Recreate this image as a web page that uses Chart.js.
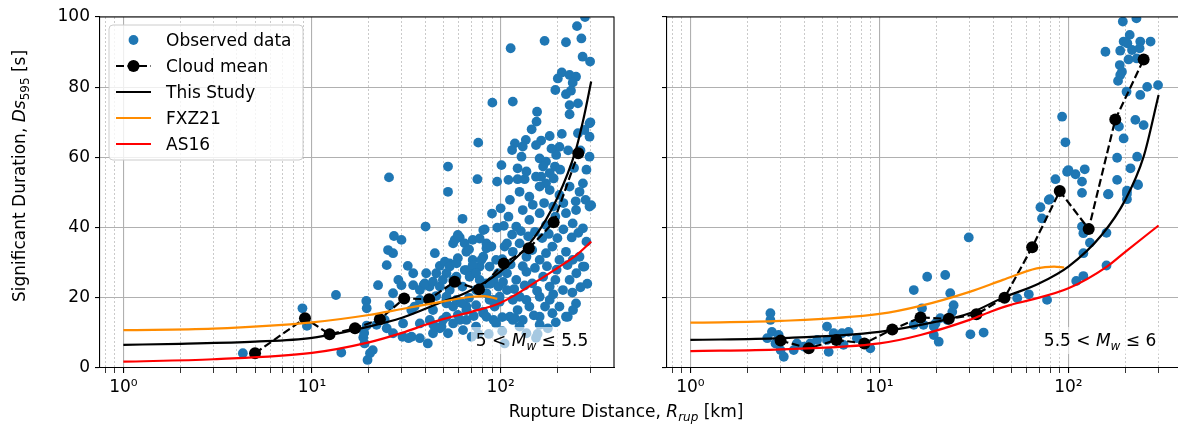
<!DOCTYPE html>
<html>
<head>
<meta charset="utf-8">
<script src="https://cdn.jsdelivr.net/npm/chart.js@4.4.0/dist/chart.umd.min.js"></script>
<style>
html, body { margin: 0; padding: 0; background: #fff; overflow: hidden; width: 1178px; height: 427px; }
#wrap { position: relative; width: 1178px; height: 427px; }
#left { position: absolute; left: 0; top: 0; }
#right { position: absolute; left: 620px; top: 0; }
#xlabel { position: absolute; left: 0; top: 401px; width: 1252px; text-align: center;
  font: 17px "DejaVu Sans"; color: #000; white-space: nowrap; }
#xlabel .sub { font-size: 12px; font-style: italic; position: relative; top: 4px; }
</style>
</head>
<body>
<div id="wrap">
  <canvas id="left" width="620" height="427"></canvas>
  <canvas id="right" width="570" height="427"></canvas>
  <div id="xlabel">Rupture Distance, <i>R</i><span class="sub">rup</span> [km]</div>
</div>
<script>
// --- data: [Rrup (km), Ds595 (s)] ---
const obsLeft = [
  [4.3,4.2],[8.9,17.0],[9.4,12.0],[13.4,20.8],[14.3,4.4],
  [19.4,19.1],[19.5,17.0],[19.5,12.1],[18.7,8.7],[19.0,7.0],[21.0,5.1],[20.3,4.2],[19.7,2.3],[18.9,10.0],
  [22.4,23.6],[25.6,54.3],[24.9,29.3],[25.3,33.6],[26.9,32.7],[27.2,37.6],[29.8,36.5],[28.7,25.1],[25.8,17.9],
  [30.4,12.7],[30.2,8.9],[33.7,8.9],[32.2,29.1],[34.4,27.0],[35.0,17.5],[37.3,12.7],[40.0,40.3],[40.3,27.0],
  [39.0,23.6],[42.0,23.2],[44.8,32.7],[47.6,29.1],[44.0,12.3],[48.6,11.8],[52.6,57.4],[52.6,50.2],[51.6,18.4],
  [29.8,23.6],[26.9,21.3],[24.3,13.7],[22.0,12.3],[24.9,11.3],[26.9,9.9],[32.5,8.5],[37.3,8.5],[41.1,7.0],[34.4,23.6],
  [37.3,22.2],[39.6,24.1],[43.8,24.6],[47.6,23.2],[53.7,22.2],[51.6,19.4],[56.0,17.5],[59.3,15.1],[65.8,16.5],
  [60.7,13.7],[51.6,14.6],[47.6,11.3],[43.8,16.5],[37.3,19.4],[33.6,16.5],[42.1,13.7],[43.8,9.9],[52.6,9.9],
  [63.2,10.8],[80.9,15.6],[91.7,13.7],[91.7,19.4],[84.1,21.3],[74.1,22.2],[71.1,27.0],[77.4,28.9],[64.5,27.9],
  [77.4,25.1],[53.7,29.8],[51.6,27.0],[58.3,26.0],[45.6,27.0],[80.9,31.7],[84.1,34.1],[71.1,30.8],
  [62.8,42.5],[60.7,37.2],[56.0,35.5],[59.3,31.3],[65.8,33.1],[71.1,36.5],[76.1,64.2],[75.3,53.8],[82.3,39.5],
  [84.1,35.5],[90.4,75.6],[95.8,53.1],[101,57.8],[113,91.1],[116,75.9],[110,53.6],[112,47.9],[105,34.6],
  [116,13.7],[98.8,18.9],[70.2,8.9],[76.1,9.7],[86.5,9.7],[105,7.0],[157,9.7],[154,8.6],
  [123,53.8],[134,53.8],[171,93.2],[222,92.8],[254,97.4],[280,100],[268,93.9],[272,88.7],[298,87.3],
  [201,82.5],[211,84.2],[232,83.5],[251,83.0],[241,81.3],[195,79.2],[222,78.0],[236,79.0],[257,75.4],
  [232,74.9],[232,72.3],[156,73.0],[155,70.2],[299,70.0],[296,65.9],[296,60.2],[257,66.9],[278,67.8],
  [211,66.7],[182,66.1],[164,64.8],[154,63.5],[136,65.0],[131,63.1],[119,64.0],[115,62.1],[129,60.2],
  [205,63.0],[197,60.7],[161,59.7],[174,58.8],[168,57.4],[182,55.5],[164,54.5],[191,54.0],[174,52.6],
  [154,54.5],[194,57.4],[123,56.9],[273,52.6],
  [57.1,36.5],[59.3,37.9],[64.5,35.5],[77.4,36.9],[80.9,39.3],[89.3,34.6],
  [50.6,30.3],[53.7,28.9],[58.4,29.8],[65.8,27.9],[71.1,29.3],[79.0,30.8],[87.4,28.9],[94.6,30.8],
  [49.4,25.1],[56.0,25.1],[62.7,23.2],[68.5,26.0],[74.1,27.0],[84.1,24.1],[91.7,25.1],[97.3,23.2],
  [51.6,20.3],[58.3,19.4],[65.8,17.5],[74.1,17.9],[80.9,16.0],[87.4,19.4],[92.9,17.5],[98.8,20.3],
  [49.4,13.7],[56.0,12.7],[65.8,13.7],[74.1,11.8],[84.1,14.6],[94.6,12.7],
  [126,50.2],[142,48.8],[161,51.7],[182,50.7],[205,49.3],[232,51.7],[262,50.2],[282,47.9],[296,46.0],
  [110,43.1],[121,40.3],[131,45.0],[142,42.2],[161,44.1],[174,40.7],[195,43.1],[222,44.1],[241,41.2],
  [273,39.8],[251,45.0],
  [108,35.5],[116,33.1],[126,35.5],[137,31.7],[147,33.6],[161,30.8],[174,32.7],[188,34.6],[205,30.8],
  [222,33.1],[241,30.8],[262,31.7],[273,28.9],
  [108,27.0],[121,25.1],[137,27.4],[147,24.1],[168,26.0],[182,23.2],[195,25.1],[214,22.2],[251,18.4],
  [232,25.1],[108,22.2],[126,20.3],
  [116,19.4],[142,17.5],[161,20.3],[182,19.4],[205,17.5],[112,14.6],[131,13.7],[161,14.6],[188,15.6],[222,14.6],
  [126,11.8],[161,12.3],[137,9.9],[227,14.6],[302,46.4],[278,28.9],[178,11.3],[119,14.2],[137,19.4],[296,69.7],
  // denser part of the cloud
  [104,40.5],[115,38.0],[128,39.0],[140,37.5],[152,38.8],[166,37.0],[180,38.2],[200,37.0],[215,39.5],[238,37.2],
  [258,38.5],[285,36.0],[102,31.0],[113,29.5],[131,29.0],[152,28.5],[176,29.0],[198,28.0],[226,29.3],[252,27.0],
  [288,24.0],[103,24.5],[118,22.5],[134,23.5],[156,22.0],[190,21.0],[240,21.5],[265,23.0],[123,16.5],[150,15.0],
  [172,17.5],[196,13.0],[242,16.5],[148,46.5],[170,47.0],[190,46.0],[215,47.0],[250,47.5],[137,56.0],[207,56.5],
  [245,57.0],[228,62.0],[186,62.5],[146,68.0],[265,62.0],[285,56.5],[100,45.5],[90,44.0],[96,40.0],[88,24.0],
  [97,27.0],[68,20.0],[62,18.5],[72,14.8],[45.5,20.5],[68,33.8],[102,14.5],[102,10.5]
];
const meanLeft = [[4.99,4.2],[9.18,14.2],[12.4,9.6],[16.9,11.3],[22.9,13.9],[30.8,19.8],[41.8,19.6],
  [57.1,24.6],[76.8,22.4],[104,29.8],[141,34.1],[191,41.5],[258,61.2]];
const studyLeft = [[1,6.6],[2,6.9],[5,7.5],[10,8.6],[20,11.8],[30,14.3],[50,19.0],[66,21.5],[100,27.5],
  [150,37.0],[200,48.5],[250,62.0],[275,71.0],[302,81.6]];
const fxzLeft = [[1,10.8],[3,11.2],[10,13.0],[20,15.1],[30,16.8],[50,19.0],[70,20.3],[82,20.5],[96,19.7]];
const as16Left = [[1,1.8],[3,2.5],[10,4.3],[20,7.3],[30,10.0],[40,12.3],[50,14.0],[70,16.0],[100,18.6],
  [160,25.1],[200,28.5],[250,32.0],[302,36.0]];

const obsRight = [
  [2.65,15.6],[2.65,13.7],[2.55,8.5],[2.7,10.3],[2.93,9.4],[2.82,7.0],[3.12,3.2],[3.0,5.1],[3.52,5.1],
  [3.66,7.0],[3.98,6.1],[4.31,7.0],[4.68,8.0],[5.28,11.8],[5.39,4.6],[5.73,9.9],[6.34,9.9],[6.87,10.3],
  [6.46,6.6],[5.96,8.0],[5.28,8.0],[7.6,8.5],[8.25,7.0],[8.95,5.6],
  [15.2,22.2],[17.9,26.0],[16.8,17.0],[15.2,12.3],[17.1,12.3],[19.4,9.4],[20.6,7.5],[22.3,26.5],[23.7,21.3],
  [24.7,17.9],[24.3,16.0],[19.8,12.7],[22.9,13.7],[29.7,37.2],[30.3,9.6],[35.6,10.1],[21.0,14.2],[19.4,11.8],
  [53.6,19.9],[61.7,21.0],[77.1,19.4],[71.1,45.8],[72.5,42.6],[78.7,47.9],[85.4,53.8],[92.6,71.6],[96.4,64.3],
  [98.4,55.9],[109,55.2],[118,53.1],[118,49.9],[122,56.6],[110,24.8],[120,26.2],[120,32.7],[120,38.4],
  [130,35.7],[159,38.5],[163,49.5],[159,29.2],[181,53.6],[181,59.9],[185,68.8],[196,65.4],[204,49.6],
  [213,56.9],[231,60.2],[233,52.3],[226,70.7],[250,69.2],[203,78.7],[240,77.8],[261,80.1],[298,80.6],
  [194,98.7],[229,99.6],[211,94.9],[196,93.0],[205,92.5],[240,93.0],[272,93.0],[157,90.1],[188,90.4],
  [217,90.6],[238,91.1],[208,87.9],[230,88.2],[187,86.3],[192,84.4],[188,83.5],[183,81.8],[79.6,48.1],
  [100,56.4],[162,49.5],[204,50.5],[118,40.3],[204,48.1],[233,52.1]
];
const meanRight = [[3.0,7.8],[4.23,5.6],[5.92,8.0],[8.33,7.0],[11.7,11.0],[16.5,14.4],[23.3,14.0],
  [32.6,15.3],[45.9,20.0],[64.3,34.4],[90,50.4],[128,39.6],[177,70.8],[250,87.9]];
const studyRight = [[1,8.0],[3,8.5],[10,10.3],[20,13.2],[30,15.6],[45,20.0],[70,24.1],[100,28.9],
  [150,37.9],[200,47.9],[250,60.2],[300,77.8]];
const fxzRight = [[1,12.9],[3,13.4],[10,15.4],[16.5,17.7],[30,21.7],[45,25.1],[68,28.4],[84,28.9],[95,28.6]];
const as16Right = [[1,4.8],[3,5.3],[10,7.0],[16.5,9.4],[30,13.7],[40,16.3],[49,17.9],[63,19.4],[100,22.7],
  [160,28.9],[200,33.1],[300,40.6]];

const xTickVals = [0.8,0.9,1,2,3,4,5,6,7,8,9,10,20,30,40,50,60,70,80,90,100,200,300];
const xTickLabels = { 1: '10\u2070', 10: '10\u00b9', 100: '10\u00b2' };
const yTicks = [0, 20, 40, 60, 80, 100];
const seriesNames = ['Observed data', 'Cloud mean', 'This Study', 'FXZ21', 'AS16'];

const FONT = 'DejaVu Sans';
Chart.defaults.font.family = FONT;
Chart.defaults.font.size = 17;
Chart.defaults.color = '#000';

function pts(arr) { return arr.map(p => ({ x: p[0], y: p[1] })); }
function isMajor(v) { return v === 1 || v === 10 || v === 100; }

function richText(ctx, parts, x, y, align, size) {
  const subSize = Math.round(size * 0.7);
  const fontOf = p => (p.i ? 'italic ' : '') + (p.s ? subSize : size) + 'px "' + FONT + '"';
  const widths = parts.map(p => { ctx.font = fontOf(p); return ctx.measureText(p.t).width; });
  const total = widths.reduce((a, b) => a + b, 0);
  let cx = align === 'right' ? x - total : align === 'center' ? x - total / 2 : x;
  const left = cx;
  parts.forEach((p, i) => {
    ctx.font = fontOf(p);
    ctx.fillText(p.t, cx, y + (p.s ? Math.round(size * 0.22) : 0));
    cx += widths[i];
  });
  return { left: left, width: total };
}

// top and right spines
const framePlugin = {
  id: 'frame',
  afterDraw(chart) {
    const a = chart.chartArea, c = chart.ctx;
    c.save();
    c.strokeStyle = '#000';
    c.lineWidth = 1.1;
    c.beginPath();
    c.moveTo(a.left, a.top); c.lineTo(a.right, a.top); c.lineTo(a.right, a.bottom);
    c.stroke();
    c.restore();
  }
};

// magnitude bin text with a faded white box behind it
function mwPlugin(parts) {
  return {
    id: 'mwLabel',
    afterDatasetsDraw(chart) {
      const a = chart.chartArea, c = chart.ctx;
      const xr = a.left + 0.95 * (a.right - a.left);
      const yb = 346;
      c.save();
      c.textBaseline = 'alphabetic';
      c.fillStyle = 'rgba(0,0,0,0)';
      const m = richText(c, parts, xr, yb, 'right', 17);
      c.fillStyle = 'rgba(255,255,255,0.6)';
      c.fillRect(m.left - 5, yb - 19, m.width + 10, 27);
      c.fillStyle = '#000';
      richText(c, parts, xr, yb, 'right', 17);
      c.restore();
    }
  };
}

const yTitlePlugin = {
  id: 'yTitle',
  afterDraw(chart) {
    const c = chart.ctx;
    c.save();
    c.translate(25, 176);
    c.rotate(-Math.PI / 2);
    c.fillStyle = '#000';
    c.textBaseline = 'alphabetic';
    richText(c, [{ t: 'Significant Duration, ' }, { t: 'Ds', i: true }, { t: '595', s: true }, { t: ' [s]' }], 0, 0, 'center', 17);
    c.restore();
  }
};

const legendPlugin = {
  id: 'legendBox',
  afterDraw(chart) {
    const c = chart.ctx;
    const x0 = 109, y0 = 25, w = 194, h = 135;
    c.save();
    c.beginPath();
    c.roundRect(x0, y0, w, h, 4);
    c.fillStyle = 'rgba(255,255,255,0.8)';
    c.fill();
    c.strokeStyle = '#cccccc';
    c.lineWidth = 1;
    c.stroke();
    chart.data.datasets.forEach((ds, i) => {
      const cy = 40 + i * 26;
      const hx0 = 116, hx1 = 151, hc = (hx0 + hx1) / 2;
      if (ds.showLine) {
        c.beginPath();
        c.setLineDash(ds.borderDash || []);
        c.strokeStyle = ds.borderColor;
        c.lineWidth = ds.borderWidth;
        c.moveTo(hx0, cy); c.lineTo(hx1, cy);
        c.stroke();
        c.setLineDash([]);
      }
      if (ds.pointRadius > 0) {
        c.beginPath();
        c.fillStyle = ds.pointBackgroundColor;
        c.arc(hc, cy, ds.pointRadius, 0, Math.PI * 2);
        c.fill();
      }
      c.fillStyle = '#000';
      c.font = '17px "' + FONT + '"';
      c.textBaseline = 'alphabetic';
      c.fillText(ds.label, 166, cy + 6);
    });
    c.restore();
  }
};

function makePanel(id, obs, mean, study, fxz, as16, opt) {
  const datasets = [
    { label: seriesNames[0], data: pts(obs), showLine: false, pointRadius: 4.9, pointHoverRadius: 4.9,
      pointBackgroundColor: '#1f77b4', pointBorderWidth: 0, borderColor: '#1f77b4', order: 5 },
    { label: seriesNames[1], data: pts(mean), showLine: true, borderColor: '#000', borderWidth: 2.2,
      borderDash: [8, 3.5], pointRadius: 6, pointHoverRadius: 6, pointBackgroundColor: '#000',
      pointBorderWidth: 0, order: 4 },
    { label: seriesNames[2], data: pts(study), showLine: true, borderColor: '#000', borderWidth: 2.2,
      pointRadius: 0, cubicInterpolationMode: 'monotone', order: 3 },
    { label: seriesNames[3], data: pts(fxz), showLine: true, borderColor: '#ff8c00', borderWidth: 2.2,
      pointRadius: 0, cubicInterpolationMode: 'monotone', order: 2 },
    { label: seriesNames[4], data: pts(as16), showLine: true, borderColor: '#ff0000', borderWidth: 2.2,
      pointRadius: 0, cubicInterpolationMode: 'monotone', order: 1 }
  ];
  const plugins = [framePlugin, mwPlugin(opt.mw)];
  if (opt.main) plugins.push(yTitlePlugin, legendPlugin);
  return new Chart(document.getElementById(id), {
    type: 'scatter',
    data: { datasets: datasets },
    plugins: plugins,
    options: {
      responsive: false,
      animation: false,
      events: [],
      layout: { padding: { top: 17, right: opt.padRight, left: 0, bottom: 0 } },
      plugins: { legend: { display: false }, tooltip: { enabled: false } },
      scales: {
        x: {
          type: 'logarithmic',
          min: 0.752,
          max: 399,
          afterBuildTicks(s) { s.ticks = xTickVals.map(v => ({ value: v, major: isMajor(v) })); },
          afterFit(s) { s.height = 59; },
          ticks: {
            autoSkip: false, maxRotation: 0, padding: 4, color: '#000',
            font: { size: 17 },
            callback: v => xTickLabels[v] || ''
          },
          grid: {
            color: ctx => (ctx.tick && isMajor(ctx.tick.value)) ? '#b0b0b0' : '#c4c4c4',
            lineWidth: ctx => (ctx.tick && isMajor(ctx.tick.value)) ? 1.1 : 0.9,
            tickColor: '#000',
            tickLength: 5,
            tickWidth: ctx => (ctx.tick && isMajor(ctx.tick.value)) ? 1.1 : 0.8
          },
          border: {
            color: '#000', width: 1.1,
            dash: ctx => (ctx.tick && !isMajor(ctx.tick.value)) ? [2, 2] : []
          }
        },
        y: {
          min: 0,
          max: 100,
          afterBuildTicks(s) { s.ticks = yTicks.map(v => ({ value: v })); },
          afterFit(s) { s.width = opt.yWidth; },
          ticks: { display: opt.main, padding: 5, color: '#000', font: { size: 17 } },
          grid: { color: '#b0b0b0', lineWidth: 1.1, tickColor: '#000', tickLength: 5, tickWidth: 1.1 },
          border: { color: '#000', width: 1.1 }
        }
      }
    }
  });
}

makePanel('left', obsLeft, meanLeft, studyLeft, fxzLeft, as16Left, {
  main: true, yWidth: 100, padRight: 5,
  mw: [{ t: '5 < ' }, { t: 'M', i: true }, { t: 'w', i: true, s: true }, { t: ' \u2264 5.5' }]
});
makePanel('right', obsRight, meanRight, studyRight, fxzRight, as16Right, {
  main: false, yWidth: 47, padRight: 8,
  mw: [{ t: '5.5 < ' }, { t: 'M', i: true }, { t: 'w', i: true, s: true }, { t: ' \u2264 6' }]
});
</script>
</body>
</html>
